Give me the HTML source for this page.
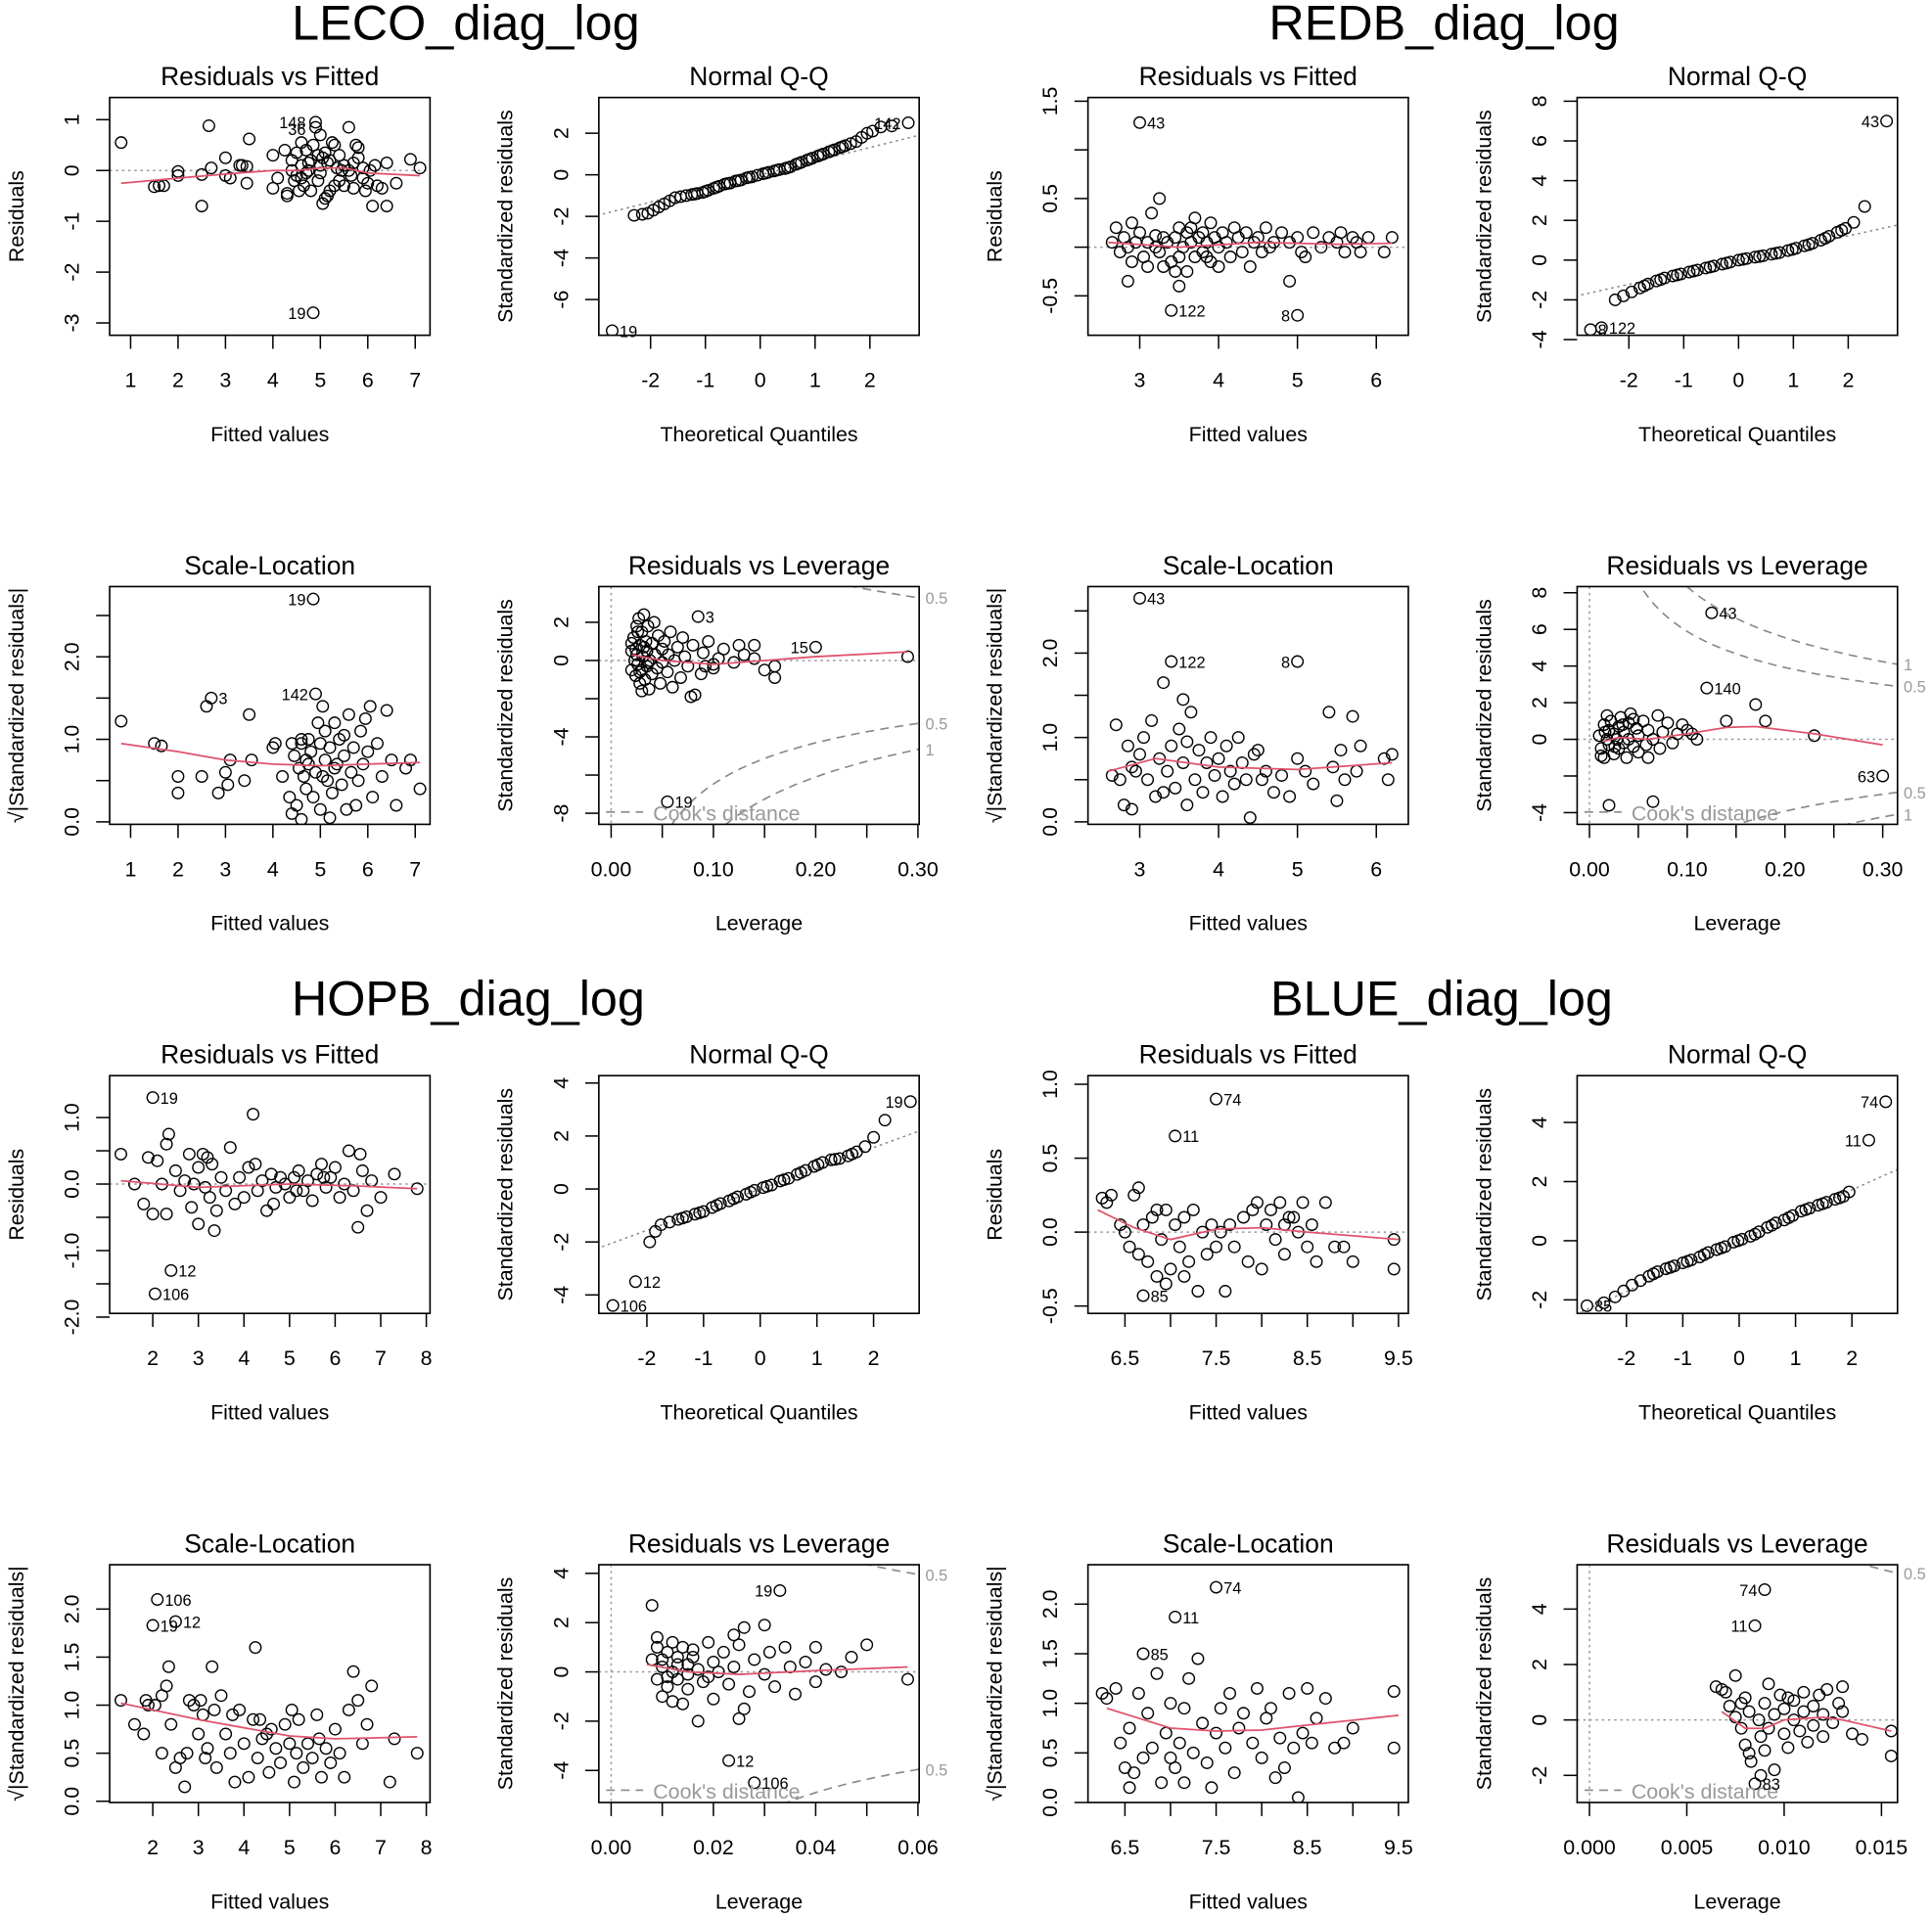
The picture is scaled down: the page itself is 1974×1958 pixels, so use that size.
<!DOCTYPE html>
<html><head><meta charset="utf-8"><style>
html,body{margin:0;padding:0;background:#fff;overflow:hidden;width:1974px;height:1958px;}
svg{display:block;font-family:"Liberation Sans",Arial,sans-serif;}
</style></head><body>
<svg id="chart" width="1974" height="1958" viewBox="0 0 1568 1555" xmlns="http://www.w3.org/2000/svg" overflow="hidden">
<rect x="0" y="0" width="1568" height="1555" fill="#fff"/>
<text x="378" y="32" font-size="40" text-anchor="middle">LECO_diag_log</text>
<text x="1172" y="32" font-size="40" text-anchor="middle">REDB_diag_log</text>
<text x="380" y="824" font-size="40" text-anchor="middle">HOPB_diag_log</text>
<text x="1170" y="824" font-size="40" text-anchor="middle">BLUE_diag_log</text>
</svg>
<script>
// ---------- DATA ----------
const leco_rvf=[0.8,0.55,1.5,-0.32,1.6,-0.3,1.7,-0.3,2.0,-0.1,2.0,-0.02,2.5,-0.08,2.5,-0.7,2.65,0.88,2.7,0.05,3.0,0.25,3.0,-0.1,3.1,-0.15,3.3,0.1,3.35,0.1,3.45,0.08,3.45,-0.25,3.5,0.62,4.0,-0.35,4.0,0.3,4.1,-0.15,4.25,0.4,4.3,-0.5,4.3,-0.45,4.4,0.2,4.4,0.0,4.5,-0.1,4.5,0.35,4.55,-0.4,4.6,0.55,4.6,0.1,4.65,-0.3,4.7,0.4,4.7,-0.05,4.75,0.15,4.8,-0.4,4.8,0.2,4.85,0.5,4.9,0.95,4.9,0.85,4.95,0.3,5.0,0.7,5.0,-0.05,5.0,0.1,5.05,-0.65,5.1,-0.55,5.1,0.35,5.15,-0.5,5.2,0.2,5.2,-0.4,5.25,0.55,5.3,0.5,5.3,-0.3,5.35,0.05,5.4,0.3,5.4,-0.2,5.5,0.1,5.5,-0.3,5.6,0.85,5.6,0.0,5.7,0.15,5.7,-0.35,5.75,0.5,5.8,0.45,5.8,0.25,5.9,-0.15,5.9,0.05,5.95,-0.4,6.0,-0.25,6.05,0.0,6.1,-0.7,6.15,0.1,6.2,-0.3,6.3,-0.35,6.4,-0.7,6.4,0.15,6.6,-0.25,6.9,0.22,7.1,0.05,4.85,-2.8,4.45,-0.2,4.75,0.0,5.15,0.15,4.95,-0.2,5.45,0.0,4.6,-0.15,5.05,0.25,5.65,-0.1];
const leco_rvf_red=[0.8,-0.25,2,-0.15,3,-0.07,4,0,4.5,0,5,0.05,5.5,0.05,6,-0.05,7.1,-0.1];
const leco_rvf_labs=[[4.85,0.95,'148','l'],[4.85,0.82,'36','l'],[4.85,-2.8,'19','l']];

const leco_qq=[-2.7,-7.5,-2.3,-1.95,-2.15,-1.9,-2.05,-1.85,-1.95,-1.7,-1.85,-1.55,-1.75,-1.4,-1.65,-1.25,-1.55,-1.1,-1.45,-1.05,-1.35,-1.0,-1.25,-0.95,-1.15,-0.9,-1.05,-0.85,-0.95,-0.75,-0.85,-0.65,-0.75,-0.55,-0.65,-0.45,-0.55,-0.4,-0.45,-0.3,-0.35,-0.25,-0.25,-0.15,-0.15,-0.1,-0.05,-0.02,0.05,0.05,0.15,0.12,0.25,0.18,0.35,0.25,0.45,0.3,0.55,0.38,0.65,0.5,0.75,0.6,0.85,0.7,0.95,0.8,1.05,0.9,1.15,1.0,1.25,1.1,1.35,1.2,1.45,1.3,1.55,1.4,1.65,1.5,1.75,1.6,1.85,1.8,1.95,2.0,2.05,2.1,2.2,2.3,2.4,2.35,2.7,2.5,-1.2,-0.93,-1.0,-0.8,-0.8,-0.6,-0.6,-0.42,-0.4,-0.28,-0.2,-0.12,0.1,0.08,0.3,0.22,0.5,0.34,0.7,0.55,0.9,0.75,1.1,0.95,1.3,1.15,1.5,1.35];
const leco_qq_line=[-3.2,-2.1,3.2,2.1];
const leco_qq_labs=[[2.7,2.5,'142','l'],[-2.7,-7.5,'19','r']];

const redb_rvf=[2.65,0.05,2.7,0.2,2.75,-0.05,2.8,0.1,2.85,0.0,2.9,0.25,2.9,-0.15,2.95,0.05,3.0,1.28,3.0,0.15,3.05,-0.1,3.1,0.05,3.1,-0.2,3.15,0.35,3.2,0.0,3.25,0.5,3.25,-0.05,3.3,0.1,3.3,-0.2,3.35,0.05,3.4,-0.65,3.4,-0.15,3.45,0.1,3.5,-0.1,3.5,0.2,3.55,0.0,3.6,-0.25,3.6,0.15,3.65,0.05,3.7,-0.1,3.7,0.3,3.75,0.1,3.8,-0.05,3.8,0.15,3.85,0.05,3.9,-0.15,3.9,0.25,3.95,0.1,4.0,0.0,4.0,-0.2,4.05,0.15,4.1,0.05,4.15,-0.1,4.2,0.2,4.25,0.1,4.3,-0.05,4.35,0.15,4.4,-0.2,4.45,0.05,4.5,0.1,4.55,-0.05,4.6,0.2,4.65,0.0,4.7,0.05,4.8,0.15,4.9,0.05,5.0,-0.7,5.0,0.1,5.05,-0.05,5.1,-0.1,5.2,0.15,5.3,0.0,5.4,0.1,5.5,0.05,5.55,0.15,5.6,-0.05,5.7,0.1,5.75,0.05,5.8,-0.05,5.9,0.1,6.1,-0.05,6.2,0.1,4.9,-0.35,2.85,-0.35,3.5,-0.4,3.2,0.12,3.45,-0.25,3.65,0.2,3.85,-0.1];
const redb_rvf_red=[2.6,0.05,3.5,0.0,4.5,0.05,5.5,0.03,6.2,0.04];
const redb_rvf_labs=[[3.0,1.28,'43','r'],[3.4,-0.65,'122','r'],[5.0,-0.7,'8','l']];

const redb_qq=[-2.7,-3.5,-2.5,-3.4,-2.25,-2.0,-2.1,-1.8,-1.95,-1.6,-1.8,-1.4,-1.65,-1.2,-1.5,-1.05,-1.35,-0.9,-1.2,-0.8,-1.05,-0.7,-0.9,-0.6,-0.75,-0.5,-0.6,-0.4,-0.45,-0.3,-0.3,-0.2,-0.15,-0.1,0,0,0.15,0.08,0.3,0.15,0.45,0.22,0.6,0.3,0.75,0.38,0.9,0.48,1.05,0.6,1.2,0.72,1.35,0.85,1.5,1.0,1.65,1.2,1.8,1.4,1.95,1.6,2.1,1.9,2.3,2.7,2.7,7.0,-1.72,-1.3,-1.42,-0.98,-1.12,-0.75,-0.82,-0.55,-0.52,-0.35,-0.22,-0.15,0.08,0.04,0.38,0.18,0.68,0.34,0.98,0.54,1.28,0.78,1.58,1.1,1.88,1.5];
const redb_qq_line=[-3.2,-1.95,3.2,1.95];
const redb_qq_labs=[[2.7,7.0,'43','l'],[-2.7,-3.5,'8','r'],[-2.5,-3.4,'122','r']];

const leco_sl=[0.8,1.22,1.5,0.95,1.65,0.92,2.0,0.55,2.0,0.35,2.5,0.55,2.6,1.4,2.7,1.5,2.85,0.35,3.0,0.6,3.05,0.45,3.1,0.75,3.4,0.5,3.5,1.3,3.55,0.75,4.0,0.9,4.05,0.95,4.2,0.55,4.35,0.3,4.4,0.95,4.45,0.8,4.5,0.2,4.55,0.65,4.6,0.95,4.6,0.03,4.65,0.55,4.7,0.75,4.7,0.4,4.75,1.0,4.8,0.85,4.85,0.3,4.85,2.7,4.9,1.55,4.9,0.6,4.95,1.2,5.0,0.15,5.0,0.95,5.05,1.4,5.1,1.1,5.1,0.75,5.15,0.5,5.2,0.9,5.25,0.35,5.3,1.2,5.3,0.65,5.4,1.0,5.45,0.45,5.5,0.8,5.55,0.15,5.6,1.3,5.65,0.6,5.7,0.9,5.75,0.2,5.8,0.5,5.85,1.1,5.9,0.7,6.0,0.85,6.05,1.4,6.1,0.3,6.2,0.95,6.3,0.55,6.4,1.35,6.5,0.75,6.6,0.2,6.8,0.65,6.9,0.75,7.1,0.4,5.2,0.05,4.4,0.1,5.95,1.25,5.35,0.7,4.75,0.7,5.05,0.55,5.5,1.05,4.6,1.0];
const leco_sl_red=[0.8,0.95,2,0.85,3,0.75,4,0.7,5,0.68,6,0.7,7.1,0.72];
const leco_sl_labs=[[4.85,2.7,'19','l'],[2.7,1.5,'3','r'],[4.9,1.55,'142','l']];

const leco_rvl=[0.02,0.5,0.02,-0.5,0.022,1.2,0.023,0.0,0.024,-0.8,0.025,1.8,0.025,0.3,0.026,-0.2,0.027,2.2,0.028,0.8,0.028,-1.2,0.03,1.5,0.03,-0.5,0.031,0.2,0.032,2.4,0.033,-1.0,0.034,1.0,0.035,0.5,0.035,-0.3,0.036,1.8,0.037,-1.5,0.038,0.0,0.04,0.9,0.04,-0.7,0.042,2.0,0.043,0.3,0.045,-0.4,0.046,1.3,0.048,-1.2,0.05,0.6,0.05,-0.1,0.052,1.0,0.055,-0.6,0.056,0.3,0.058,1.5,0.06,-1.4,0.062,0.0,0.065,0.7,0.068,-0.9,0.07,1.2,0.072,0.2,0.075,-0.3,0.08,0.8,0.082,-1.8,0.085,2.3,0.09,0.4,0.092,-0.3,0.095,1.0,0.1,-0.4,0.1,-0.2,0.105,0.1,0.11,0.6,0.12,-0.1,0.125,0.8,0.13,0.3,0.14,0.1,0.15,-0.5,0.16,-0.3,0.16,-0.9,0.2,0.7,0.29,0.2,0.055,-7.4,0.02,0.9,0.026,1.5,0.03,-1.6,0.078,-1.9,0.088,-0.7,0.14,0.8,0.024,0.6,0.028,-0.6,0.032,0.7,0.036,-0.1];
const leco_rvl_red=[0.02,0.3,0.05,0.0,0.1,-0.2,0.15,0.0,0.2,0.2,0.29,0.45];
const leco_rvl_labs=[[0.085,2.3,'3','r'],[0.2,0.7,'15','l'],[0.055,-7.4,'19','r']];

const redb_sl=[2.65,0.55,2.7,1.15,2.75,0.5,2.8,0.2,2.85,0.9,2.9,0.15,2.95,0.6,3.0,2.65,3.0,0.8,3.05,1.0,3.1,0.5,3.15,1.2,3.2,0.3,3.25,0.75,3.3,1.65,3.35,0.6,3.4,1.9,3.4,0.9,3.45,0.4,3.5,1.1,3.55,0.7,3.6,0.2,3.65,1.3,3.7,0.5,3.75,0.85,3.8,0.35,3.85,0.7,3.9,1.0,3.95,0.55,4.0,0.75,4.05,0.3,4.1,0.9,4.15,0.6,4.2,0.45,4.25,1.0,4.3,0.7,4.35,0.5,4.4,0.05,4.5,0.85,4.55,0.5,4.6,0.6,4.7,0.35,4.8,0.55,4.9,0.3,5.0,1.9,5.0,0.75,5.1,0.6,5.2,0.45,5.4,1.3,5.45,0.65,5.55,0.85,5.6,0.5,5.7,1.25,5.75,0.6,5.8,0.9,6.1,0.75,6.15,0.5,6.2,0.8,3.55,1.45,2.9,0.65,3.6,0.95,4.45,0.8,5.5,0.25,3.3,0.35];
const redb_sl_red=[2.6,0.6,3.2,0.75,4.0,0.65,5.0,0.62,6.2,0.7];
const redb_sl_labs=[[3.0,2.65,'43','r'],[3.4,1.9,'122','r'],[5.0,1.9,'8','l']];

const redb_rvl=[0.01,0.2,0.012,-0.5,0.015,0.8,0.015,-1.0,0.018,0.0,0.02,0.5,0.02,-0.3,0.022,1.0,0.025,-0.8,0.025,0.3,0.028,0.0,0.03,-0.5,0.03,0.7,0.032,1.2,0.035,-0.2,0.035,0.4,0.038,-1.0,0.04,0.9,0.04,0.0,0.042,1.4,0.045,-0.4,0.048,0.6,0.05,-0.7,0.05,0.2,0.055,1.0,0.058,-0.3,0.06,0.5,0.065,-3.4,0.065,0.0,0.07,1.3,0.072,-0.5,0.075,0.4,0.08,0.9,0.085,-0.2,0.09,0.3,0.1,0.5,0.11,0.0,0.12,2.8,0.125,6.9,0.14,1.0,0.17,1.9,0.18,1.0,0.23,0.2,0.3,-2.0,0.02,-3.6,0.018,1.3,0.045,1.1,0.06,-1.0,0.095,0.8,0.105,0.3,0.012,-0.9,0.016,0.4,0.026,-0.4,0.034,0.8];
const redb_rvl_red=[0.015,-0.1,0.03,0.1,0.06,0.0,0.1,0.3,0.14,0.65,0.17,0.7,0.23,0.3,0.3,-0.3];
const redb_rvl_labs=[[0.125,6.9,'43','r'],[0.12,2.8,'140','r'],[0.3,-2.0,'63','l']];

const hopb_rvf=[1.3,0.45,1.6,0.0,1.8,-0.3,1.9,0.4,2.0,1.3,2.0,-0.45,2.1,0.35,2.2,0.0,2.3,0.6,2.3,-0.45,2.35,0.75,2.4,-1.3,2.5,0.2,2.6,-0.1,2.7,0.05,2.8,0.45,2.85,-0.35,2.9,0.0,3.0,0.25,3.0,-0.6,3.1,0.45,3.2,0.4,3.25,-0.2,3.3,0.3,3.35,-0.7,3.4,-0.4,3.5,0.1,3.6,-0.1,3.7,0.55,3.8,-0.3,3.9,0.1,4.0,-0.2,4.1,0.25,4.2,1.05,4.25,0.3,4.3,-0.1,4.4,0.05,4.5,-0.4,4.6,0.15,4.7,-0.05,4.8,0.1,4.9,0.0,5.0,-0.2,5.1,0.1,5.2,0.2,5.3,-0.1,5.4,0.05,5.5,-0.25,5.6,0.15,5.7,0.3,5.8,-0.05,5.9,0.1,6.0,0.25,6.1,-0.2,6.2,0.0,6.3,0.5,6.4,-0.1,6.5,-0.65,6.55,0.45,6.6,0.2,6.7,-0.4,6.8,0.05,7.0,-0.2,7.3,0.15,7.8,-0.07,2.05,-1.65,5.15,-0.1,5.75,0.1,4.65,-0.3,3.15,-0.05];
const hopb_rvf_red=[1.3,0.05,3,-0.05,5,0.0,6.5,-0.03,7.8,-0.07];
const hopb_rvf_labs=[[2.0,1.3,'19','r'],[2.4,-1.3,'12','r'],[2.05,-1.65,'106','r']];

const hopb_qq=[-2.6,-4.4,-2.2,-3.5,-1.95,-2.0,-1.85,-1.6,-1.75,-1.35,-1.6,-1.25,-1.45,-1.15,-1.3,-1.05,-1.15,-0.95,-1.0,-0.85,-0.85,-0.7,-0.7,-0.55,-0.55,-0.45,-0.4,-0.3,-0.25,-0.2,-0.1,-0.05,0.05,0.05,0.2,0.15,0.35,0.3,0.5,0.4,0.65,0.55,0.8,0.7,0.95,0.85,1.1,1.0,1.25,1.1,1.4,1.15,1.55,1.25,1.7,1.4,1.85,1.6,2.0,1.95,2.2,2.6,2.65,3.3,-1.37,-1.1,-1.07,-0.9,-0.77,-0.62,-0.47,-0.37,-0.17,-0.12,0.12,0.1,0.42,0.35,0.72,0.62,1.02,0.92,1.32,1.12,1.62,1.32];
const hopb_qq_line=[-3.2,-2.5,3.2,2.5];
const hopb_qq_labs=[[2.65,3.3,'19','l'],[-2.2,-3.5,'12','r'],[-2.6,-4.4,'106','r']];

const blue_rvf=[6.25,0.23,6.3,0.2,6.35,0.25,6.45,0.05,6.5,0.0,6.55,-0.1,6.6,0.25,6.65,0.3,6.65,-0.15,6.7,-0.43,6.7,0.05,6.75,-0.2,6.8,0.1,6.85,-0.3,6.9,-0.05,6.95,0.15,7.0,-0.25,7.05,0.65,7.05,0.05,7.1,-0.1,7.15,0.1,7.2,-0.2,7.25,0.15,7.3,-0.4,7.35,0.0,7.4,-0.15,7.45,0.05,7.5,0.9,7.5,-0.1,7.55,0.0,7.6,-0.4,7.65,0.05,7.7,-0.1,7.8,0.1,7.85,-0.2,7.9,0.15,8.0,-0.25,8.05,0.05,8.1,0.15,8.15,-0.05,8.2,0.2,8.25,0.05,8.3,0.1,8.35,0.1,8.4,0.0,8.45,0.2,8.5,-0.1,8.55,0.05,8.6,-0.2,8.7,0.2,8.8,-0.1,8.9,-0.1,9.0,-0.2,9.45,-0.05,9.45,-0.25,6.95,-0.35,7.15,-0.3,8.25,-0.15,7.95,0.2,6.85,0.15];
const blue_rvf_red=[6.2,0.15,6.6,0.03,7.0,-0.05,7.5,0.02,8.0,0.03,8.5,0.0,9.5,-0.05];
const blue_rvf_labs=[[7.5,0.9,'74','r'],[7.05,0.65,'11','r'],[6.7,-0.43,'85','r']];

const blue_qq=[-2.7,-2.2,-2.4,-2.1,-2.2,-1.9,-2.05,-1.7,-1.9,-1.5,-1.75,-1.35,-1.6,-1.2,-1.45,-1.05,-1.3,-0.95,-1.15,-0.85,-1.0,-0.75,-0.85,-0.65,-0.7,-0.55,-0.55,-0.4,-0.4,-0.3,-0.25,-0.2,-0.1,-0.05,0.05,0.05,0.2,0.15,0.35,0.3,0.5,0.45,0.65,0.6,0.8,0.7,0.95,0.85,1.1,1.0,1.25,1.1,1.4,1.2,1.55,1.3,1.7,1.4,1.85,1.5,1.95,1.65,2.3,3.4,2.6,4.7,-1.52,-1.12,-1.22,-0.9,-0.92,-0.7,-0.62,-0.47,-0.32,-0.25,-0.02,0.0,0.28,0.22,0.58,0.52,0.88,0.78,1.18,1.05,1.48,1.25,1.78,1.45];
const blue_qq_line=[-3.2,-2.75,3.2,2.75];
const blue_qq_labs=[[2.6,4.7,'74','l'],[2.3,3.4,'11','l'],[-2.7,-2.2,'85','r']];

const hopb_sl=[1.3,1.05,1.6,0.8,1.8,0.7,1.85,1.05,1.9,1.0,2.0,1.83,2.05,1.0,2.1,2.1,2.2,1.1,2.2,0.5,2.3,1.2,2.35,1.4,2.4,0.8,2.5,1.87,2.5,0.35,2.6,0.45,2.7,0.15,2.75,0.5,2.8,1.05,2.9,1.0,3.0,0.7,3.05,1.05,3.1,0.9,3.2,0.55,3.3,1.4,3.35,0.95,3.4,0.35,3.5,1.1,3.6,0.7,3.7,0.5,3.75,0.9,3.8,0.2,3.9,0.95,4.0,0.6,4.1,0.25,4.2,0.85,4.25,1.6,4.3,0.45,4.4,0.65,4.5,0.7,4.55,0.3,4.6,0.75,4.7,0.55,4.8,0.4,4.9,0.8,5.0,0.6,5.1,0.2,5.15,0.5,5.2,0.85,5.3,0.35,5.4,0.6,5.5,0.45,5.6,0.9,5.7,0.25,5.8,0.55,5.9,0.4,6.0,0.75,6.1,0.5,6.2,0.25,6.3,0.95,6.4,1.35,6.5,1.05,6.6,0.6,6.7,0.8,6.8,1.2,7.2,0.2,7.3,0.65,7.8,0.5,5.05,0.95,4.35,0.85,5.65,0.65,3.15,0.45];
const hopb_sl_red=[1.3,1.02,3,0.85,5,0.68,6,0.65,7.8,0.67];
const hopb_sl_labs=[[2.1,2.1,'106','r'],[2.0,1.83,'19','r'],[2.5,1.87,'12','r']];

const hopb_rvl=[0.008,2.7,0.008,0.5,0.009,-0.3,0.009,1.0,0.01,-1.0,0.01,0.2,0.011,0.8,0.011,-0.6,0.012,1.2,0.012,0.0,0.013,-0.3,0.013,0.6,0.014,-1.3,0.014,1.0,0.015,0.3,0.015,-0.7,0.016,0.9,0.017,-2.0,0.017,0.1,0.018,-0.4,0.019,1.2,0.02,0.4,0.02,-1.1,0.021,0.0,0.022,0.8,0.023,-0.5,0.024,0.2,0.025,1.1,0.026,-1.5,0.026,1.8,0.027,-0.8,0.028,0.5,0.03,-0.1,0.031,0.8,0.032,-0.6,0.033,3.3,0.034,1.0,0.035,0.2,0.036,-0.9,0.038,0.4,0.04,1.0,0.04,-0.4,0.042,0.1,0.045,0.0,0.047,0.6,0.05,1.1,0.058,-0.3,0.023,-3.6,0.028,-4.5,0.025,-1.9,0.012,-1.2,0.009,1.4,0.016,0.6,0.019,-0.2,0.03,1.9,0.024,1.5,0.01,0.5,0.011,-0.2,0.013,0.3,0.015,-0.1];
const hopb_rvl_red=[0.007,0.3,0.015,0.0,0.025,-0.1,0.04,0.05,0.058,0.2];
const hopb_rvl_labs=[[0.033,3.3,'19','l'],[0.023,-3.6,'12','r'],[0.028,-4.5,'106','r']];

const blue_sl=[6.25,1.1,6.3,1.05,6.4,1.15,6.45,0.6,6.5,0.35,6.55,0.75,6.6,0.3,6.65,1.1,6.7,1.5,6.7,0.45,6.75,0.9,6.8,0.55,6.85,1.3,6.9,0.2,6.95,0.7,7.0,1.0,7.05,1.87,7.05,0.35,7.1,0.6,7.15,0.95,7.2,1.25,7.25,0.5,7.3,1.45,7.35,0.8,7.4,0.4,7.45,0.15,7.5,2.17,7.5,0.7,7.55,0.95,7.6,0.55,7.65,1.1,7.7,0.3,7.75,0.75,7.8,0.9,7.9,0.6,7.95,1.15,8.0,0.45,8.05,0.85,8.1,0.95,8.2,0.65,8.25,0.35,8.3,1.1,8.35,0.55,8.4,0.05,8.45,0.7,8.5,1.15,8.55,0.6,8.6,0.85,8.7,1.05,8.8,0.55,8.9,0.6,9.0,0.75,9.45,1.12,9.45,0.55,6.55,0.15,7.15,0.2,8.15,0.25,7.0,0.45];
const blue_sl_red=[6.3,0.95,7.0,0.75,7.5,0.72,8.0,0.73,8.5,0.78,9.5,0.88];
const blue_sl_labs=[[7.5,2.17,'74','r'],[7.05,1.87,'11','r'],[6.7,1.5,'85','r']];

const blue_rvl=[0.0065,1.2,0.0068,1.1,0.007,1.0,0.0072,0.5,0.0075,0.1,0.0075,1.6,0.0078,-0.3,0.008,0.8,0.008,-0.9,0.0082,0.3,0.0083,-1.5,0.0085,3.4,0.0085,-2.3,0.0087,0.0,0.0088,-0.6,0.009,4.7,0.009,-1.1,0.009,0.6,0.0092,-0.3,0.0095,0.2,0.0095,-1.8,0.0098,0.9,0.01,-0.5,0.01,0.4,0.0102,-1.0,0.0105,0.7,0.0105,0.0,0.0108,-0.4,0.011,1.0,0.011,0.3,0.0112,-0.8,0.0115,0.5,0.0115,-0.2,0.0118,0.9,0.012,0.2,0.012,-0.6,0.0122,1.1,0.0125,-0.1,0.0128,0.6,0.013,0.3,0.013,1.2,0.0135,-0.5,0.014,-0.7,0.0155,-0.4,0.0155,-1.3,0.0088,-2.0,0.0092,1.3,0.0078,0.6,0.0102,0.8,0.0082,-1.2];
const blue_rvl_red=[0.0068,0.3,0.008,-0.3,0.009,-0.3,0.01,0.0,0.012,0.1,0.013,0.0,0.0155,-0.4];
const blue_rvl_labs=[[0.009,4.7,'74','l'],[0.0085,3.4,'11','l'],[0.0085,-2.3,'83','r']];

// tick arrays
const t_fit7=[1,2,3,4,5,6,7], t_fit7_l=['1','2','3','4','5','6','7'];
const t_q=[-2,-1,0,1,2], t_q_l=['-2','-1','0','1','2'];
const t_fit36=[3,4,5,6], t_fit36_l=['3','4','5','6'];
const t_lev3=[0,0.05,0.1,0.15,0.2,0.25,0.3], t_lev3_l=['0.00','','0.10','','0.20','','0.30'];
const t_fit28=[2,3,4,5,6,7,8], t_fit28_l=['2','3','4','5','6','7','8'];
const t_fitb=[6.5,7,7.5,8,8.5,9,9.5], t_fitb_l=['6.5','','7.5','','8.5','','9.5'];
const t_lev06=[0,0.01,0.02,0.03,0.04,0.05,0.06], t_lev06_l=['0.00','','0.02','','0.04','','0.06'];
const t_lev015=[0,0.005,0.01,0.015], t_lev015_l=['0.000','0.005','0.010','0.015'];

// ---------- DRAWING ----------
const svg=document.getElementById('chart');
const NS='http://www.w3.org/2000/svg';
function mk(tag,attrs,parent){const e=document.createElementNS(NS,tag);for(const k in attrs)e.setAttribute(k,attrs[k]);(parent||svg).appendChild(e);return e;}
const defs=mk('defs',{});
const W=260,H=193;
const panels=[
{id:'leco-rvf',L:89,T:79,xa:[1,106,7,337],ya:[1,97,-3,262],xt:t_fit7,xl:t_fit7_l,yt:[-3,-2,-1,0,1],yl:['-3','-2','-1','0','1'],title:'Residuals vs Fitted',xlab:'Fitted values',ylab:'Residuals',pts:leco_rvf,red:leco_rvf_red,labs:leco_rvf_labs,h0:true},
{id:'leco-qq',L:486,T:79,xa:[-2,528,2,706],ya:[2,108,-6,243],xt:t_q,xl:t_q_l,yt:[-6,-4,-2,0,2],yl:['-6','-4','-2','0','2'],title:'Normal Q-Q',xlab:'Theoretical Quantiles',ylab:'Standardized residuals',pts:leco_qq,qq:leco_qq_line,labs:leco_qq_labs},
{id:'redb-rvf',L:883,T:79,xa:[3,925,6,1117],ya:[0.5,161,-0.5,240],xt:t_fit36,xl:t_fit36_l,yt:[-0.5,0,0.5,1,1.5],yl:['-0.5','','0.5','','1.5'],title:'Residuals vs Fitted',xlab:'Fitted values',ylab:'Residuals',pts:redb_rvf,red:redb_rvf_red,labs:redb_rvf_labs,h0:true},
{id:'redb-qq',L:1280,T:79,xa:[-2,1322,2,1500],ya:[0,211,8,82],xt:t_q,xl:t_q_l,yt:[-4,-2,0,2,4,6,8],yl:['-4','-2','0','2','4','6','8'],title:'Normal Q-Q',xlab:'Theoretical Quantiles',ylab:'Standardized residuals',pts:redb_qq,qq:redb_qq_line,labs:redb_qq_labs},
{id:'leco-sl',L:89,T:476,xa:[1,106,7,337],ya:[0,667,2,533],xt:t_fit7,xl:t_fit7_l,yt:[0,0.5,1,1.5,2,2.5],yl:['0.0','','1.0','','2.0',''],title:'Scale-Location',xlab:'Fitted values',ylab:'√|Standardized residuals|',pts:leco_sl,red:leco_sl_red,labs:leco_sl_labs},
{id:'leco-rvl',L:486,T:476,xa:[0,496,0.3,745],ya:[0,536,-4,598],xt:t_lev3,xl:t_lev3_l,yt:[-8,-6,-4,-2,0,2],yl:['-8','','-4','','0','2'],title:'Residuals vs Leverage',xlab:'Leverage',ylab:'Standardized residuals',pts:leco_rvl,red:leco_rvl_red,labs:leco_rvl_labs,lev:true,cook:{p:9.3,lv:[0.5,1]}},
{id:'redb-sl',L:883,T:476,xa:[3,925,6,1117],ya:[0,667,2,530],xt:t_fit36,xl:t_fit36_l,yt:[0,0.5,1,1.5,2,2.5],yl:['0.0','','1.0','','2.0',''],title:'Scale-Location',xlab:'Fitted values',ylab:'√|Standardized residuals|',pts:redb_sl,red:redb_sl_red,labs:redb_sl_labs},
{id:'redb-rvl',L:1280,T:476,xa:[0,1290,0.3,1528],ya:[0,600,8,481],xt:t_lev3,xl:t_lev3_l,yt:[-4,-2,0,2,4,6,8],yl:['-4','','0','2','4','6','8'],title:'Residuals vs Leverage',xlab:'Leverage',ylab:'Standardized residuals',pts:redb_rvl,red:redb_rvl_red,labs:redb_rvl_labs,lev:true,cook:{p:7.7,lv:[0.5,1]}},
{id:'hopb-rvf',L:89,T:873,xa:[2,124,8,346],ya:[0,961,1,907],xt:t_fit28,xl:t_fit28_l,yt:[-2,-1.5,-1,-0.5,0,0.5,1],yl:['-2.0','','-1.0','','0.0','','1.0'],title:'Residuals vs Fitted',xlab:'Fitted values',ylab:'Residuals',pts:hopb_rvf,red:hopb_rvf_red,labs:hopb_rvf_labs,h0:true},
{id:'hopb-qq',L:486,T:873,xa:[-2,525,2,709],ya:[0,965,2,922],xt:t_q,xl:t_q_l,yt:[-4,-2,0,2,4],yl:['-4','-2','0','2','4'],title:'Normal Q-Q',xlab:'Theoretical Quantiles',ylab:'Standardized residuals',pts:hopb_qq,qq:hopb_qq_line,labs:hopb_qq_labs},
{id:'blue-rvf',L:883,T:873,xa:[6.5,913,9.5,1135],ya:[0,1000,1,880],xt:t_fitb,xl:t_fitb_l,yt:[-0.5,0,0.5,1],yl:['-0.5','0.0','0.5','1.0'],title:'Residuals vs Fitted',xlab:'Fitted values',ylab:'Residuals',pts:blue_rvf,red:blue_rvf_red,labs:blue_rvf_labs,h0:true},
{id:'blue-qq',L:1280,T:873,xa:[-2,1320,2,1503],ya:[0,1007,2,959],xt:t_q,xl:t_q_l,yt:[-2,0,2,4],yl:['-2','0','2','4'],title:'Normal Q-Q',xlab:'Theoretical Quantiles',ylab:'Standardized residuals',pts:blue_qq,qq:blue_qq_line,labs:blue_qq_labs},
{id:'hopb-sl',L:89,T:1270,xa:[2,124,8,346],ya:[0,1462,2,1306],xt:t_fit28,xl:t_fit28_l,yt:[0,0.5,1,1.5,2],yl:['0.0','0.5','1.0','1.5','2.0'],title:'Scale-Location',xlab:'Fitted values',ylab:'√|Standardized residuals|',pts:hopb_sl,red:hopb_sl_red,labs:hopb_sl_labs},
{id:'hopb-rvl',L:486,T:1270,xa:[0,496,0.06,745],ya:[0,1357,4,1277],xt:t_lev06,xl:t_lev06_l,yt:[-4,-2,0,2,4],yl:['-4','-2','0','2','4'],title:'Residuals vs Leverage',xlab:'Leverage',ylab:'Standardized residuals',pts:hopb_rvl,red:hopb_rvl_red,labs:hopb_rvl_labs,lev:true,cook:{p:2.0,lv:[0.5]}},
{id:'blue-sl',L:883,T:1270,xa:[6.5,913,9.5,1135],ya:[0,1463,2,1302],xt:t_fitb,xl:t_fitb_l,yt:[0,0.5,1,1.5,2],yl:['0.0','0.5','1.0','1.5','2.0'],title:'Scale-Location',xlab:'Fitted values',ylab:'√|Standardized residuals|',pts:blue_sl,red:blue_sl_red,labs:blue_sl_labs},
{id:'blue-rvl',L:1280,T:1270,xa:[0,1290,0.015,1527],ya:[0,1396,4,1306],xt:t_lev015,xl:t_lev015_l,yt:[-2,0,2,4],yl:['-2','0','2','4'],title:'Residuals vs Leverage',xlab:'Leverage',ylab:'Standardized residuals',pts:blue_rvl,red:blue_rvl_red,labs:blue_rvl_labs,lev:true,cook:{p:0.9,lv:[0.5]}}
];

panels.forEach((c,i)=>{
  const L=c.L,T=c.T,R=L+W,B=T+H;
  const sx=v=>c.xa[1]+(v-c.xa[0])*(c.xa[3]-c.xa[1])/(c.xa[2]-c.xa[0]);
  const sy=v=>c.ya[1]+(v-c.ya[0])*(c.ya[3]-c.ya[1])/(c.ya[2]-c.ya[0]);
  const g=mk('g',{});
  
  
  const cp=mk('clipPath',{id:'clip'+i},defs);
  mk('rect',{x:L,y:T,width:W,height:H},cp);
  const inner=mk('g',{'clip-path':'url(#clip'+i+')'},g);
  const tt=mk('text',{x:L+W/2,y:T-10,'font-size':21,'text-anchor':'middle'},g);
  tt.textContent=c.title;
  
  
  const xt=mk('text',{x:L+W/2,y:B+86,'font-size':17,'text-anchor':'middle'},g);
  xt.textContent=c.xlab;
  
  
  const yx=L-70,yy=T+H/2;
  const yt=mk('text',{x:yx,y:yy,'font-size':17,'text-anchor':'middle',transform:'rotate(-90 '+yx+' '+yy+')'},g);
  yt.textContent=c.ylab;
  
  
  c.xt.forEach((v,j)=>{
    const x=sx(v);
    const tk=mk('line',{x1:x,y1:B,x2:x,y2:B+11,stroke:'#000','stroke-width':1.2},g);
    
    
    if(c.xl[j]){
      const tl=mk('text',{x:x,y:B+42,'font-size':17,'text-anchor':'middle'},g);
      tl.textContent=c.xl[j];
      
      
    }
  });
  c.yt.forEach((v,j)=>{
    const y=sy(v);
    const tk=mk('line',{x1:L-11,y1:y,x2:L,y2:y,stroke:'#000','stroke-width':1.2},g);
    
    
    if(c.yl[j]){
      const lx=L-25;
      const tl=mk('text',{x:lx,y:y,'font-size':17,'text-anchor':'middle',transform:'rotate(-90 '+lx+' '+y+')'},g);
      tl.textContent=c.yl[j];
      
      
    }
  });
  if(c.h0||c.lev){
    const hl=mk('line',{x1:L,y1:sy(0),x2:R,y2:sy(0),stroke:'#999','stroke-width':1.2,'stroke-dasharray':'2,3'},inner);
    
    
  }
  if(c.lev){
    const vl=mk('line',{x1:sx(0),y1:T,x2:sx(0),y2:B,stroke:'#999','stroke-width':1.2,'stroke-dasharray':'2,3'},inner);
    
    
  }
  if(c.qq){
    const ql=mk('line',{x1:sx(c.qq[0]),y1:sy(c.qq[1]),x2:sx(c.qq[2]),y2:sy(c.qq[3]),stroke:'#888','stroke-width':1.2,'stroke-dasharray':'2,3'},inner);
    
    
  }
  if(c.cook){
    const hmax=c.xa[0]+(R-c.xa[1])*(c.xa[2]-c.xa[0])/(c.xa[3]-c.xa[1]);
    c.cook.lv.forEach(lv=>{
      [1,-1].forEach(sg=>{
        let d='';
        for(let k=1;k<=80;k++){
          const h=hmax*k/80;
          const r=sg*Math.sqrt(lv*c.cook.p*(1-h)/h);
          d+=(k===1?'M':'L')+sx(h).toFixed(1)+','+Math.max(T-60,Math.min(B+60,sy(r))).toFixed(1);
        }
        const cl=mk('path',{d:d,fill:'none',stroke:'#888','stroke-width':1.3,'stroke-dasharray':'7,5'},inner);
        
        
        const ry=sy(sg*Math.sqrt(lv*c.cook.p*(1-hmax)/hmax));
        if(ry>T-8&&ry<B+8){
          const ll=mk('text',{x:R+5,y:ry+5,'font-size':13,fill:'#999'},g);
          ll.textContent=String(lv);
          
          
        }
      });
    });
    const lg=mk('line',{x1:L+6,y1:B-10,x2:L+36,y2:B-10,stroke:'#888','stroke-width':1.3,'stroke-dasharray':'7,5'},g);
    
    
    const lt=mk('text',{x:L+44,y:B-3,'font-size':17,fill:'#999'},g);
    lt.textContent="Cook's distance";
    
    
  }
  for(let k=0;k<c.pts.length;k+=2){
    const pt=mk('circle',{cx:sx(c.pts[k]),cy:sy(c.pts[k+1]),r:4.6,fill:'none',stroke:'#000','stroke-width':1.1},inner);
    
    
  }
  if(c.red){
    let d='';
    for(let k=0;k<c.red.length;k+=2)d+=(k?'L':'M')+sx(c.red[k]).toFixed(1)+','+sy(c.red[k+1]).toFixed(1);
    const rl=mk('path',{d:d,fill:'none',stroke:'#DF536B','stroke-width':1.4},inner);
    
    
  }
  c.labs.forEach(lb=>{
    const x=sx(lb[0]),y=sy(lb[1]);
    const tl=mk('text',{x:lb[3]==='l'?x-6:x+6,y:y+5,'font-size':13,'text-anchor':lb[3]==='l'?'end':'start'},g);
    tl.textContent=lb[2];
    
    
  });
  const bx=mk('rect',{x:L,y:T,width:W,height:H,fill:'none',stroke:'#000','stroke-width':1.3},g);
  
  
});
</script>
</body></html>
